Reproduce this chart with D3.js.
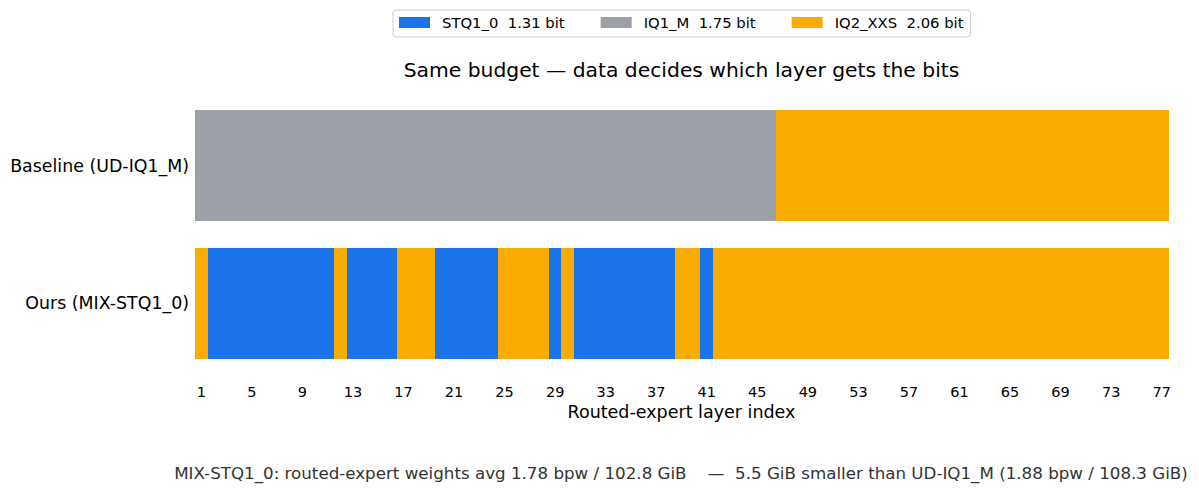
<!DOCTYPE html>
<html>
<head>
<meta charset="utf-8">
<script src="https://cdn.jsdelivr.net/npm/d3@7.9.0/dist/d3.min.js"></script>
<style>
  body { margin: 0; background: #fff; }
  svg { font-family: "DejaVu Sans", sans-serif; }
  text { white-space: pre; }
</style>
</head>
<body>
<svg id="chart" width="1199" height="494"></svg>
<script>
// quant types, in legend order
const quantTypes = ['STQ1_0', 'IQ1_M', 'IQ2_XXS'];
const quantBits = [1.31, 1.75, 2.06];
const quantColors = ['#1a73e8', '#9aa0a6', '#f9ab00'];

const rowLabels = ['Baseline (UD-IQ1_M)', 'Ours (MIX-STQ1_0)'];

// per-layer assignment, layers 1..77
const baselineLayers = [
  'IQ1_M','IQ1_M','IQ1_M','IQ1_M','IQ1_M','IQ1_M','IQ1_M','IQ1_M','IQ1_M','IQ1_M',
  'IQ1_M','IQ1_M','IQ1_M','IQ1_M','IQ1_M','IQ1_M','IQ1_M','IQ1_M','IQ1_M','IQ1_M',
  'IQ1_M','IQ1_M','IQ1_M','IQ1_M','IQ1_M','IQ1_M','IQ1_M','IQ1_M','IQ1_M','IQ1_M',
  'IQ1_M','IQ1_M','IQ1_M','IQ1_M','IQ1_M','IQ1_M','IQ1_M','IQ1_M','IQ1_M','IQ1_M',
  'IQ1_M','IQ1_M','IQ1_M','IQ1_M','IQ1_M','IQ1_M','IQ2_XXS','IQ2_XXS','IQ2_XXS','IQ2_XXS',
  'IQ2_XXS','IQ2_XXS','IQ2_XXS','IQ2_XXS','IQ2_XXS','IQ2_XXS','IQ2_XXS','IQ2_XXS','IQ2_XXS','IQ2_XXS',
  'IQ2_XXS','IQ2_XXS','IQ2_XXS','IQ2_XXS','IQ2_XXS','IQ2_XXS','IQ2_XXS','IQ2_XXS','IQ2_XXS','IQ2_XXS',
  'IQ2_XXS','IQ2_XXS','IQ2_XXS','IQ2_XXS','IQ2_XXS','IQ2_XXS','IQ2_XXS'
];
const oursLayers = [
  'IQ2_XXS','STQ1_0','STQ1_0','STQ1_0','STQ1_0','STQ1_0','STQ1_0','STQ1_0','STQ1_0','STQ1_0',
  'STQ1_0','IQ2_XXS','STQ1_0','STQ1_0','STQ1_0','STQ1_0','IQ2_XXS','IQ2_XXS','IQ2_XXS','STQ1_0',
  'STQ1_0','STQ1_0','STQ1_0','STQ1_0','IQ2_XXS','IQ2_XXS','IQ2_XXS','IQ2_XXS','STQ1_0','IQ2_XXS',
  'STQ1_0','STQ1_0','STQ1_0','STQ1_0','STQ1_0','STQ1_0','STQ1_0','STQ1_0','IQ2_XXS','IQ2_XXS',
  'STQ1_0','IQ2_XXS','IQ2_XXS','IQ2_XXS','IQ2_XXS','IQ2_XXS','IQ2_XXS','IQ2_XXS','IQ2_XXS','IQ2_XXS',
  'IQ2_XXS','IQ2_XXS','IQ2_XXS','IQ2_XXS','IQ2_XXS','IQ2_XXS','IQ2_XXS','IQ2_XXS','IQ2_XXS','IQ2_XXS',
  'IQ2_XXS','IQ2_XXS','IQ2_XXS','IQ2_XXS','IQ2_XXS','IQ2_XXS','IQ2_XXS','IQ2_XXS','IQ2_XXS','IQ2_XXS',
  'IQ2_XXS','IQ2_XXS','IQ2_XXS','IQ2_XXS','IQ2_XXS','IQ2_XXS','IQ2_XXS'
];
const tickLayers = [1, 5, 9, 13, 17, 21, 25, 29, 33, 37, 41, 45, 49, 53, 57, 61, 65, 69, 73, 77];

const title = 'Same budget \u2014 data decides which layer gets the bits';
const xLabel = 'Routed-expert layer index';
const footer = 'MIX-STQ1_0: routed-expert weights avg 1.78 bpw / 102.8 GiB    \u2014  5.5 GiB smaller than UD-IQ1_M (1.88 bpw / 108.3 GiB)';

const svg = d3.select('#chart');
const margin = { left: 195, right: 31, top: 110, bottom: 135 };
const width = 1199, height = 494;

const layerIdx = d3.range(1, baselineLayers.length + 1);
const x = d3.scaleBand().domain(layerIdx).range([margin.left, width - margin.right]).padding(0);
const y = d3.scaleBand().domain(rowLabels).range([margin.top, height - margin.bottom]).paddingInner(0.19).paddingOuter(0);
const color = d3.scaleOrdinal().domain(quantTypes).range(quantColors);

const rows = [baselineLayers, oursLayers];
rows.forEach((layers, r) => {
  svg.append('g').attr('shape-rendering', 'crispEdges').selectAll('rect')
    .data(layers)
    .join('rect')
    .attr('x', (d, i) => x(i + 1))
    .attr('y', y(rowLabels[r]))
    .attr('width', x.bandwidth() + 0.5)
    .attr('height', y.bandwidth())
    .attr('fill', d => color(d));
});

// y labels
svg.append('g').selectAll('text')
  .data(rowLabels)
  .join('text')
  .attr('x', margin.left - 6)
  .attr('y', d => y(d) + y.bandwidth() / 2)
  .attr('text-anchor', 'end')
  .attr('dominant-baseline', 'central')
  .attr('font-size', 17.4)
  .attr('fill', '#000')
  .text(d => d);

// x axis, no line or ticks
const xAxis = d3.axisBottom(x).tickValues(tickLayers).tickSize(0).tickPadding(0);
const gx = svg.append('g')
  .attr('transform', `translate(0,${height - margin.bottom})`)
  .call(xAxis);
gx.select('.domain').remove();
gx.selectAll('text')
  .attr('y', 38).attr('dy', null)
  .attr('font-size', 14.5).attr('font-family', '"DejaVu Sans", sans-serif').attr('fill', '#000');

svg.append('text')
  .attr('x', (margin.left + width - margin.right) / 2)
  .attr('y', 418)
  .attr('text-anchor', 'middle')
  .attr('font-size', 17.5)
  .text(xLabel);

svg.append('text')
  .attr('x', (margin.left + width - margin.right) / 2)
  .attr('y', 77)
  .attr('text-anchor', 'middle')
  .attr('font-size', 20.3)
  .text(title);

svg.append('text')
  .attr('x', 681)
  .attr('y', 479)
  .attr('text-anchor', 'middle')
  .attr('font-size', 16.7)
  .attr('fill', '#333')
  .text(footer);

// legend
const legend = svg.append('g');
const box = legend.append('rect')
  .attr('fill', '#fff')
  .attr('stroke', '#ccc')
  .attr('rx', 3);
let cx = 399;
quantTypes.forEach((q, i) => {
  legend.append('rect')
    .attr('x', cx).attr('y', 17).attr('width', 31).attr('height', 11)
    .attr('fill', quantColors[i]);
  const t = legend.append('text')
    .attr('x', cx + 43).attr('y', 28)
    .attr('font-size', 14.8)
    .text(`${q}  ${quantBits[i].toFixed(2)} bit`);
  cx += 43 + t.node().getComputedTextLength() + 36;
});
box.attr('x', 393).attr('y', 10).attr('width', cx - 36 + 7 - 393).attr('height', 27);
</script>
</body>
</html>
